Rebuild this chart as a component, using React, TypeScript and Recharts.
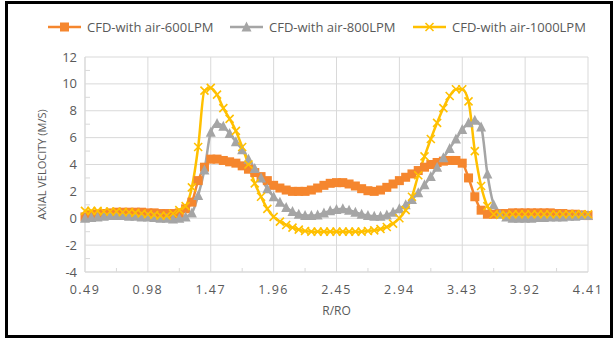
import { LineChart, Line, XAxis, YAxis, CartesianGrid } from 'recharts'

// R/RO positions of the CFD probe points
const rOverRo = [
  0.49, 0.539, 0.588, 0.637, 0.686, 0.735, 0.784, 0.833, 0.882, 0.931,
  0.98, 1.029, 1.078, 1.127, 1.176, 1.225, 1.274, 1.323, 1.372, 1.421,
  1.47, 1.519, 1.568, 1.617, 1.666, 1.715, 1.764, 1.813, 1.862, 1.911,
  1.96, 2.009, 2.058, 2.107, 2.156, 2.205, 2.254, 2.303, 2.352, 2.401,
  2.45, 2.499, 2.548, 2.597, 2.646, 2.695, 2.744, 2.793, 2.842, 2.891,
  2.94, 2.989, 3.038, 3.087, 3.136, 3.185, 3.234, 3.283, 3.332, 3.381,
  3.43, 3.479, 3.528, 3.577, 3.626, 3.675, 3.724, 3.773, 3.822, 3.871,
  3.92, 3.969, 4.018, 4.067, 4.116, 4.165, 4.214, 4.263, 4.312, 4.361,
  4.41,
]

const air600 = [
  0.1, 0.2, 0.3, 0.35, 0.4, 0.45, 0.45, 0.45, 0.45, 0.45,
  0.4, 0.4, 0.35, 0.35, 0.35, 0.4, 0.7, 1.2, 2.8, 3.8,
  4.4, 4.4, 4.3, 4.2, 4.1, 3.9, 3.65, 3.4, 3.1, 2.8,
  2.45, 2.25, 2.1, 2.0, 2.0, 2.0, 2.1, 2.25, 2.45, 2.6,
  2.65, 2.65, 2.55, 2.4, 2.2, 2.05, 2.0, 2.1, 2.3, 2.55,
  2.8, 3.05, 3.3, 3.55, 3.8, 4.0, 4.15, 4.25, 4.3, 4.3,
  4.1, 3.0, 1.6, 0.6, 0.3, 0.3, 0.35, 0.35, 0.4, 0.4,
  0.4, 0.4, 0.4, 0.4, 0.4, 0.35, 0.35, 0.3, 0.3, 0.25,
  0.2,
]

const air800 = [
  0.0, 0.05, 0.1, 0.15, 0.2, 0.2, 0.2, 0.15, 0.15, 0.1,
  0.1, 0.05, 0.0, 0.0, -0.05, 0.0, 0.1, 0.4, 1.7, 3.6,
  6.4, 7.05, 6.85, 6.3, 5.7, 5.1, 4.4, 3.7, 3.0, 2.2,
  1.6, 1.2, 0.8, 0.5, 0.3, 0.2, 0.2, 0.25, 0.4, 0.55,
  0.65, 0.7, 0.6, 0.45, 0.3, 0.2, 0.15, 0.15, 0.25, 0.45,
  0.7, 1.0, 1.4, 1.9, 2.5, 3.1, 3.8, 4.5, 5.2, 5.9,
  6.6, 7.1, 7.3, 6.8, 3.3, 1.0, 0.3, 0.1, 0.0, 0.0,
  0.0, 0.0, 0.05, 0.05, 0.1, 0.1, 0.1, 0.15, 0.15, 0.2,
  0.2,
]

const air1000 = [
  0.55, 0.55, 0.55, 0.5, 0.5, 0.5, 0.45, 0.45, 0.4, 0.35,
  0.3, 0.25, 0.2, 0.2, 0.35, 0.6, 0.9, 2.3, 5.3, 9.5,
  9.7, 9.2, 8.2, 7.4, 6.5, 5.3, 4.0, 2.6, 1.6, 0.7,
  0.1, -0.25, -0.5, -0.7, -0.85, -0.95, -1.0, -1.0, -1.0, -1.0,
  -1.0, -1.0, -1.0, -1.0, -1.0, -0.95, -0.9, -0.8, -0.65, -0.4,
  0.0, 0.6, 1.6, 3.2, 4.6, 5.9, 7.1, 8.2, 9.1, 9.6,
  9.6, 8.7, 5.0, 2.4, 0.9, 0.3, 0.25, 0.25, 0.3, 0.3,
  0.3, 0.3, 0.3, 0.3, 0.3, 0.3, 0.3, 0.3, 0.3, 0.3,
  0.3,
]

const xMajorTicks = [0.49, 0.98, 1.47, 1.96, 2.45, 2.94, 3.43, 3.92, 4.41]
const xMinorTicks = [0.735, 1.225, 1.715, 2.205, 2.695, 3.185, 3.675, 4.165]
const yMajorTicks = [-4, -2, 0, 2, 4, 6, 8, 10, 12]
const yMinorTicks = [-3, -1, 1, 3, 5, 7, 9, 11]

const seriesNames = ['CFD-with air-600LPM', 'CFD-with air-800LPM', 'CFD-with air-1000LPM']

const ORANGE = '#F5862E'
const GRAY = '#A5A5A5'
const GOLD = '#FFC000'
const TEXT = '#595959'
const GRID = '#D9D9D9'
const FONT = '"Open Sans", sans-serif'

const data = rOverRo.map((r, i) => ({
  r,
  air600: air600[i],
  air800: air800[i],
  air1000: air1000[i],
}))

function Square({ cx, cy, color }: any) {
  if (cx == null || cy == null) return null
  return <rect x={cx - 4.5} y={cy - 4.5} width={9} height={9} fill={color} />
}

function Triangle({ cx, cy, color }: any) {
  if (cx == null || cy == null) return null
  return (
    <polygon
      points={`${cx},${cy - 5.5} ${cx - 5},${cy + 4.5} ${cx + 5},${cy + 4.5}`}
      fill={color}
    />
  )
}

function Cross({ cx, cy, color }: any) {
  if (cx == null || cy == null) return null
  const s = 4
  return (
    <path
      d={`M${cx - s},${cy - s}L${cx + s},${cy + s}M${cx - s},${cy + s}L${cx + s},${cy - s}`}
      stroke={color}
      strokeWidth={1.6}
      fill="none"
    />
  )
}

function XTick({ x, y, payload }: any) {
  const v = payload.value
  if (xMajorTicks.includes(v)) {
    return (
      <text x={x} y={y + 22} textAnchor="middle" fill={TEXT} fontSize={12.5} fontFamily={FONT} letterSpacing={1.5}>
        {v.toFixed(2)}
      </text>
    )
  }
  return <line x1={x} x2={x} y1={y} y2={y - 4} stroke={GRID} />
}

function YTick({ x, y, payload }: any) {
  const v = payload.value
  if (yMajorTicks.includes(v)) {
    return (
      <text x={x - 8} y={y} dy="0.35em" textAnchor="end" fill={TEXT} fontSize={13} fontFamily={FONT}>
        {v}
      </text>
    )
  }
  return <line x1={x} x2={x + 5} y1={y} y2={y} stroke={GRID} />
}

function LegendItem({ left, name, color, marker }: any) {
  return (
    <div style={{ position: 'absolute', left, top: 0, display: 'flex', alignItems: 'center' }}>
      <svg width={33} height={14}>
        <line x1={0} x2={33} y1={7} y2={7} stroke={color} strokeWidth={2.5} />
        {marker}
      </svg>
      <span style={{ marginLeft: 6, fontSize: 13, color: TEXT, fontFamily: FONT, whiteSpace: 'nowrap' }}>{name}</span>
    </div>
  )
}

export default function App() {
  return (
    <div style={{ position: 'absolute', left: 0, top: 0, width: 616, height: 340, background: '#fff' }}>
      <div
        style={{
          position: 'absolute',
          left: 5,
          top: 1,
          width: 608,
          height: 337,
          border: '3px solid #000',
          boxSizing: 'border-box',
        }}
      />
      <div style={{ position: 'absolute', left: 0, top: 18, width: 616, height: 14 }}>
        <LegendItem left={48} name={seriesNames[0]} color={ORANGE} marker={<Square cx={16.5} cy={7} color={ORANGE} />} />
        <LegendItem left={230} name={seriesNames[1]} color={GRAY} marker={<Triangle cx={16.5} cy={7} color={GRAY} />} />
        <LegendItem left={413} name={seriesNames[2]} color={GOLD} marker={<Cross cx={16.5} cy={7} color={GOLD} />} />
      </div>
      <div style={{ position: 'absolute', left: 0, top: 0 }}>
        <LineChart width={616} height={340} data={data} margin={{ top: 57, right: 28, bottom: 0, left: 0 }}>
          <CartesianGrid
            stroke={GRID}
            horizontalValues={yMajorTicks}
            verticalValues={xMajorTicks}
          />
          <XAxis
            dataKey="r"
            type="number"
            domain={[0.49, 4.41]}
            ticks={[...xMajorTicks, ...xMinorTicks].sort((a, b) => a - b)}
            interval={0}
            height={68}
            stroke={GRID}
            tickLine={false}
            tickSize={0}
            tickMargin={0}
            tick={<XTick />}
            label={{ value: 'R/RO', position: 'center', dy: 5, fill: TEXT, fontSize: 12, fontFamily: FONT }}
          />
          <YAxis
            type="number"
            domain={[-4, 12]}
            ticks={[...yMajorTicks, ...yMinorTicks].sort((a, b) => a - b)}
            interval={0}
            width={85}
            stroke={GRID}
            tickLine={false}
            tickSize={0}
            tickMargin={0}
            tick={<YTick />}
            label={{
              value: 'AXIAL VELOCITY (M/S)',
              angle: -90,
              position: 'center',
              fill: TEXT,
              fontSize: 11,
              fontFamily: FONT,
            }}
          />
          <Line
            dataKey="air600"
            type="monotone"
            stroke={ORANGE}
            strokeWidth={2.5}
            isAnimationActive={false}
            activeDot={false}
            dot={(p: any) => <Square key={`o${p.index}`} cx={p.cx} cy={p.cy} color={ORANGE} />}
          />
          <Line
            dataKey="air800"
            type="monotone"
            stroke={GRAY}
            strokeWidth={2.5}
            isAnimationActive={false}
            activeDot={false}
            dot={(p: any) => <Triangle key={`g${p.index}`} cx={p.cx} cy={p.cy} color={GRAY} />}
          />
          <Line
            dataKey="air1000"
            type="monotone"
            stroke={GOLD}
            strokeWidth={2.5}
            isAnimationActive={false}
            activeDot={false}
            dot={(p: any) => <Cross key={`y${p.index}`} cx={p.cx} cy={p.cy} color={GOLD} />}
          />
        </LineChart>
      </div>
    </div>
  )
}
